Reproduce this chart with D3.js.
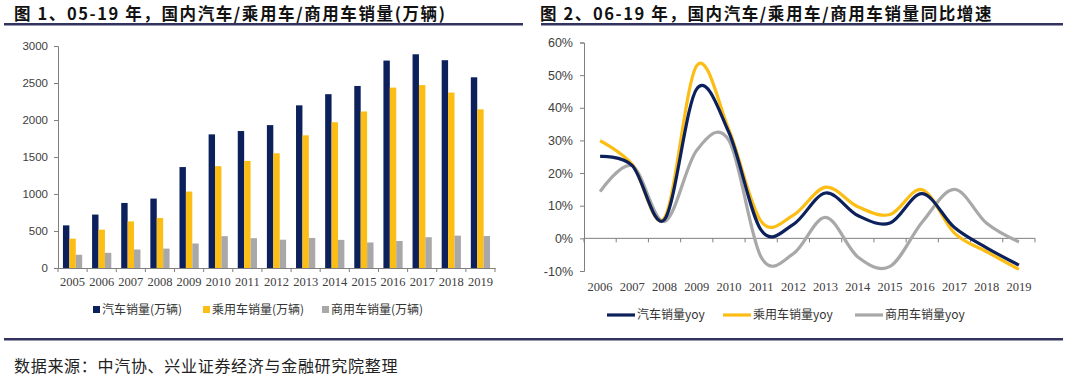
<!DOCTYPE html>
<html>
<head>
<meta charset="utf-8">
<script src="https://cdn.jsdelivr.net/npm/d3@7"></script>
<style>
  body { margin: 0; background: #fff; }
  .title { font-family: "Noto Sans CJK SC", sans-serif; font-weight: 700; font-size: 16.5px; letter-spacing: 1.6px; fill: #111; }
  .source { font-family: "Noto Sans CJK SC", sans-serif; font-size: 16px; letter-spacing: 0.7px; fill: #222; }
  .legendText { font-family: "Noto Sans CJK SC", sans-serif; font-size: 12px; fill: #333; }
  .yTick text { font-family: "Liberation Sans", sans-serif; fill: #404040; }
  .xTick text { font-family: "Liberation Serif", serif; font-size: 12.5px; fill: #404040; }
</style>
</head>
<body>
<div class="chart"></div>
<script>
/*--------------------------------------------------------------------------
+++ Data
--------------------------------------------------------------------------*/
var years = ["2005", "2006", "2007", "2008", "2009", "2010", "2011", "2012",
             "2013", "2014", "2015", "2016", "2017", "2018", "2019"];
var carSales = [576, 722, 879, 938, 1364, 1806, 1851, 1931, 2198, 2349, 2460, 2803, 2888, 2808, 2577];
var passengerSales = [397, 518, 630, 676, 1033, 1376, 1447, 1550, 1793, 1970, 2115, 2438, 2472, 2371, 2144];
var commercialSales = [179, 205, 250, 262, 331, 430, 403, 382, 406, 380, 345, 365, 416, 437, 432];
var salesTicks = [0, 500, 1000, 1500, 2000, 2500, 3000];
var salesLegend = ["汽车销量(万辆)", "乘用车销量(万辆)", "商用车销量(万辆)"];

var yoyYears = ["2006", "2007", "2008", "2009", "2010", "2011", "2012",
                "2013", "2014", "2015", "2016", "2017", "2018", "2019"];
var carYoy = [25.1, 22.3, 5.8, 45.8, 32.4, 2.5, 4.3, 13.9, 7.0, 4.7, 13.7, 3.3, -2.9, -8.2];
var passengerYoy = [29.9, 22.6, 6.3, 52.9, 33.2, 5.2, 7.1, 15.7, 9.7, 7.3, 14.9, 1.6, -4.1, -9.5];
var commercialYoy = [14.3, 22.2, 5.2, 27.0, 30.0, -5.8, -4.7, 6.4, -5.7, -8.6, 5.0, 15.0, 4.6, -1.1];
var yoyTicks = [-10, 0, 10, 20, 30, 40, 50, 60];
var yoyLegend = ["汽车销量yoy", "乘用车销量yoy", "商用车销量yoy"];

var colors = ["#0c215c", "#fcbd14", "#a8a8a8"];

/*--------------------------------------------------------------------------
+++ Page frame: titles, rules, source
--------------------------------------------------------------------------*/
var svg = d3.select(".chart")
    .append("svg")
    .attr("width", 1080)
    .attr("height", 381);

svg.append("text").attr("class", "title").attr("x", 14).attr("y", 20)
    .text("图 1、05-19 年，国内汽车/乘用车/商用车销量(万辆)");
svg.append("text").attr("class", "title").attr("x", 540).attr("y", 20)
    .text("图 2、06-19 年，国内汽车/乘用车/商用车销量同比增速");

var ruleColor = "#33335f";
svg.append("rect").attr("x", 4).attr("y", 23).attr("width", 519).attr("height", 2.5).attr("fill", ruleColor);
svg.append("rect").attr("x", 541).attr("y", 23).attr("width", 522).attr("height", 2.5).attr("fill", ruleColor);
svg.append("rect").attr("x", 4).attr("y", 338).attr("width", 1059).attr("height", 2.5).attr("fill", ruleColor);

svg.append("text").attr("class", "source").attr("x", 14).attr("y", 372)
    .text("数据来源：中汽协、兴业证券经济与金融研究院整理");

/*--------------------------------------------------------------------------
+++ Chart 1: grouped bars
--------------------------------------------------------------------------*/
var xBand = d3.scaleBand()
    .domain(years)
    .range([58, 495]);

var series = [carSales, passengerSales, commercialSales];

var xInner = d3.scaleBand()
    .domain([0, 1, 2])
    .range([xBand.bandwidth() * 0.17, xBand.bandwidth() * 0.83]);

var ySales = d3.scaleLinear()
    .domain([0, 3000])
    .range([268, 46]);

var axisColor = "#7f7f7f";

// y axis
var leftAxis = svg.append("g")
    .attr("class", "yTick")
    .attr("transform", "translate(58,0)")
    .call(d3.axisLeft(ySales).tickValues(salesTicks).tickSize(4).tickPadding(6).tickFormat(d3.format("d")));
leftAxis.selectAll("text").style("font-size", "11.5px");

// bars
series.forEach(function (values, i) {
    svg.append("g")
        .selectAll("rect")
        .data(values)
        .enter()
        .append("rect")
        .attr("x", (d, j) => xBand(years[j]) + xInner(i))
        .attr("y", d => ySales(d))
        .attr("width", xInner.bandwidth())
        .attr("height", d => ySales(0) - ySales(d))
        .attr("fill", colors[i]);
});

// x axis with ticks on band edges
var bottomAxis = svg.append("g")
    .attr("class", "xTick")
    .attr("transform", "translate(0,268)")
    .call(d3.axisBottom(xBand).tickSize(0).tickPadding(9));
bottomAxis.selectAll(".edgeTick")
    .data(years.concat(["end"]))
    .enter()
    .append("line")
    .attr("x1", (d, j) => 58 + j * xBand.step())
    .attr("x2", (d, j) => 58 + j * xBand.step())
    .attr("y1", 0)
    .attr("y2", 4)
    .attr("stroke", axisColor);

[leftAxis, bottomAxis].forEach(function (ax) {
    ax.selectAll("path, line").attr("stroke", axisColor);
});

// legend
var salesLegendX = [93, 203, 322];
salesLegend.forEach(function (label, i) {
    svg.append("rect")
        .attr("x", salesLegendX[i]).attr("y", 306)
        .attr("width", 7).attr("height", 7)
        .attr("fill", colors[i]);
    svg.append("text")
        .attr("class", "legendText")
        .attr("x", salesLegendX[i] + 9).attr("y", 314)
        .text(label);
});

/*--------------------------------------------------------------------------
+++ Chart 2: smoothed yoy lines
--------------------------------------------------------------------------*/
var xYoyBand = d3.scaleBand()
    .domain(yoyYears)
    .range([584, 1035]);

var yYoy = d3.scaleLinear()
    .domain([-10, 60])
    .range([271, 42.5]);

var rightAxis = svg.append("g")
    .attr("class", "yTick")
    .attr("transform", "translate(584,0)")
    .call(d3.axisLeft(yYoy).tickValues(yoyTicks).tickSize(4).tickPadding(7).tickFormat(d => d + "%"));
rightAxis.selectAll("text").style("font-size", "12.5px");

var zeroAxis = svg.append("g")
    .attr("transform", `translate(0,${yYoy(0)})`);
zeroAxis.append("line")
    .attr("x1", 584).attr("x2", 1035)
    .attr("stroke", axisColor);
zeroAxis.selectAll(".edgeTick")
    .data(yoyYears.concat(["end"]))
    .enter()
    .append("line")
    .attr("x1", (d, j) => 584 + j * xYoyBand.step())
    .attr("x2", (d, j) => 584 + j * xYoyBand.step())
    .attr("y1", 0)
    .attr("y2", 4)
    .attr("stroke", axisColor);

// year labels sit below the plot
var yoyLabels = svg.append("g")
    .attr("class", "xTick")
    .attr("transform", "translate(0,271)")
    .call(d3.axisBottom(xYoyBand).tickSize(0).tickPadding(11));
yoyLabels.select(".domain").remove();

rightAxis.selectAll("path, line").attr("stroke", axisColor);

var line = d3.line()
    .x((d, j) => xYoyBand(yoyYears[j]) + xYoyBand.bandwidth() / 2)
    .y(d => yYoy(d))
    .curve(d3.curveCardinal.tension(0));

// draw gray first, then yellow, then navy on top
[[commercialYoy, 2], [passengerYoy, 1], [carYoy, 0]].forEach(function (s) {
    svg.append("path")
        .datum(s[0])
        .attr("d", line)
        .attr("fill", "none")
        .attr("stroke", colors[s[1]])
        .attr("stroke-width", 3.2)
        .attr("stroke-linejoin", "round");
});

// legend
var yoyLegendX = [607, 723, 855];
yoyLegend.forEach(function (label, i) {
    svg.append("line")
        .attr("x1", yoyLegendX[i]).attr("x2", yoyLegendX[i] + 28)
        .attr("y1", 315).attr("y2", 315)
        .attr("stroke", colors[i])
        .attr("stroke-width", 3.2);
    svg.append("text")
        .attr("class", "legendText")
        .attr("x", yoyLegendX[i] + 30).attr("y", 319)
        .text(label);
});
</script>
</body>
</html>
